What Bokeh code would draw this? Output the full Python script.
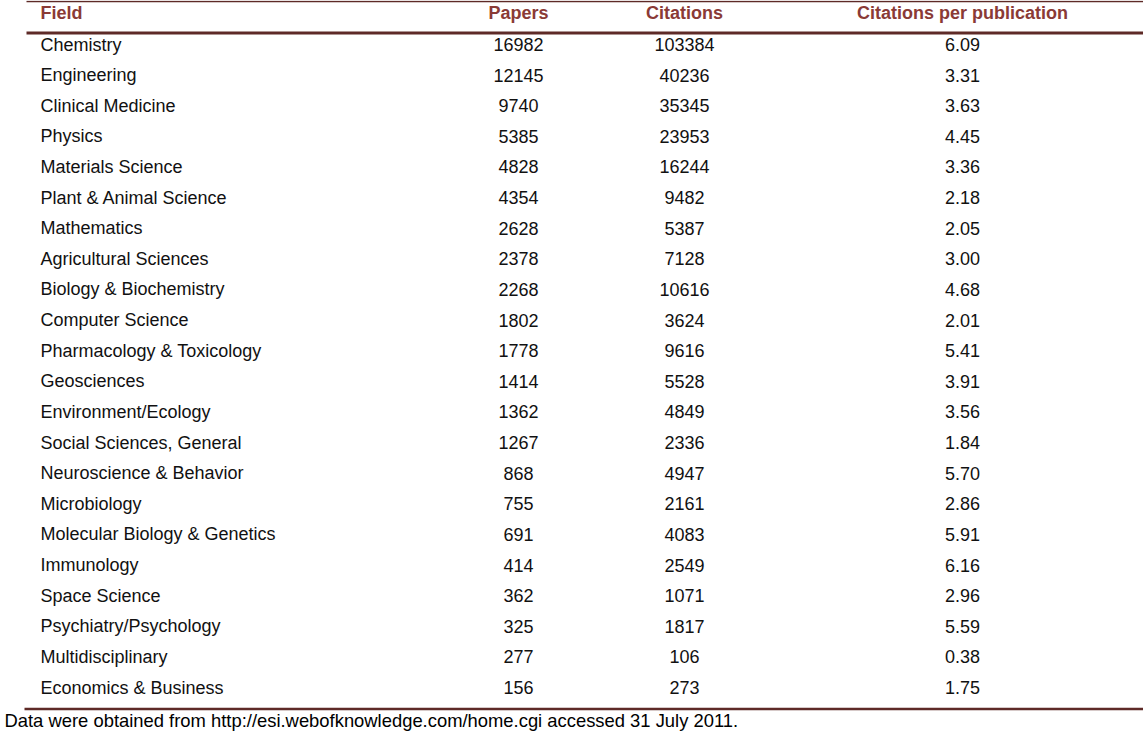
import numpy as np
from bokeh.plotting import figure
from bokeh.models import ColumnDataSource, Range1d
from bokeh.core.properties import value
from bokeh.embed import file_html
from bokeh.resources import INLINE

# ---------------- data ----------------
headers = ["Field", "Papers", "Citations", "Citations per publication"]
fields = ["Chemistry", "Engineering", "Clinical Medicine", "Physics", "Materials Science",
          "Plant & Animal Science", "Mathematics", "Agricultural Sciences",
          "Biology & Biochemistry", "Computer Science", "Pharmacology & Toxicology",
          "Geosciences", "Environment/Ecology", "Social Sciences, General",
          "Neuroscience & Behavior", "Microbiology", "Molecular Biology & Genetics",
          "Immunology", "Space Science", "Psychiatry/Psychology", "Multidisciplinary",
          "Economics & Business"]
papers = [16982, 12145, 9740, 5385, 4828, 4354, 2628, 2378, 2268, 1802, 1778, 1414,
          1362, 1267, 868, 755, 691, 414, 362, 325, 277, 156]
citations = [103384, 40236, 35345, 23953, 16244, 9482, 5387, 7128, 10616, 3624, 9616,
             5528, 4849, 2336, 4947, 2161, 4083, 2549, 1071, 1817, 106, 273]
cites_per_pub = [6.09, 3.31, 3.63, 4.45, 3.36, 2.18, 2.05, 3.00, 4.68, 2.01, 5.41, 3.91,
                 3.56, 1.84, 5.70, 2.86, 5.91, 6.16, 2.96, 5.59, 0.38, 1.75]
footnote = "Data were obtained from http://esi.webofknowledge.com/home.cgi accessed 31 July 2011."

# ---------------- layout (page pixel coordinates) ----------------
W, H = 1143, 733
FONT = "Liberation Sans"
LINE_COLOR = "#5e2a27"
HEAD_COLOR = "#8a3a36"
TEXT_COLOR = "#111111"

field_x = 40
col_centers = [518, 684, 962]
header_y = 12
first_row_y = 44
last_row_y = 687
n = len(fields)
row_y = first_row_y + np.arange(n) * (last_row_y - first_row_y) / (n - 1)

p = figure(width=W, height=H, output_backend="svg", toolbar_location=None,
           x_range=Range1d(0, W), y_range=Range1d(H, 0),
           x_axis_location=None, y_axis_location=None,
           min_border=0, min_border_left=0, min_border_right=0,
           min_border_top=0, min_border_bottom=0,
           background_fill_color="white", border_fill_color="white")
p.grid.visible = False
p.outline_line_color = None

# rules
p.segment(x0=[26], y0=[1], x1=[W], y1=[1], line_color=LINE_COLOR, line_width=1.5)
p.segment(x0=[26], y0=[32.5], x1=[W], y1=[32.5], line_color=LINE_COLOR, line_width=3)
p.segment(x0=[24], y0=[708.5], x1=[W], y1=[708.5], line_color=LINE_COLOR, line_width=2.5)

# header
p.text(x=[field_x], y=[header_y], text=[headers[0]], text_font=value(FONT),
       text_font_size="18px", text_font_style="bold", text_color=HEAD_COLOR,
       text_align="left", text_baseline="middle")
p.text(x=col_centers, y=[header_y] * 3, text=headers[1:], text_font=value(FONT),
       text_font_size="18px", text_font_style="bold", text_color=HEAD_COLOR,
       text_align="center", text_baseline="middle")

# body
src = ColumnDataSource(dict(
    y=row_y,
    field=fields,
    papers=[str(v) for v in papers],
    cites=[str(v) for v in citations],
    cpp=[f"{v:.2f}" for v in cites_per_pub],
    xf=[field_x] * n,
    x1=[col_centers[0]] * n,
    x2=[col_centers[1]] * n,
    x3=[col_centers[2]] * n,
))
p.text(x="xf", y="y", text="field", source=src, text_font=value(FONT),
       text_font_size="18px", text_color=TEXT_COLOR, text_align="left",
       text_baseline="middle")
for xc, col in (("x1", "papers"), ("x2", "cites"), ("x3", "cpp")):
    p.text(x=xc, y="y", text=col, source=src, text_font=value(FONT),
           text_font_size="18px", text_color=TEXT_COLOR, text_align="center",
           text_baseline="middle")

# footnote
p.text(x=[4], y=[720], text=[footnote], text_font=value(FONT), text_font_size="18.4px",
       text_color="#000000", text_align="left", text_baseline="middle")

open("out.html", "w").write(file_html(p, INLINE))
